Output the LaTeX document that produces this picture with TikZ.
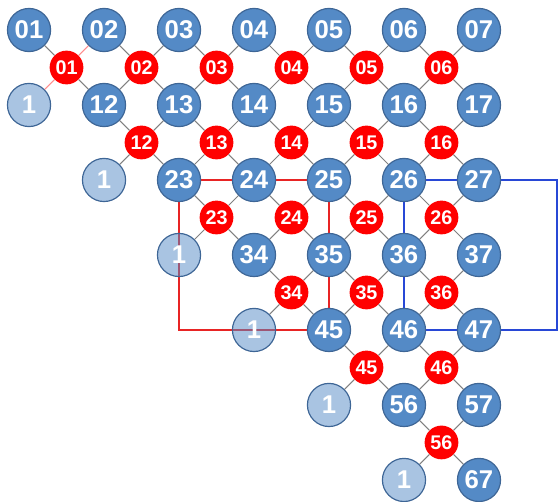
\documentclass[tikz,border=0pt]{standalone}
\usepackage{fontspec}
\setmainfont{Liberation Sans}
\usepackage{tikz}
\usepackage{xcolor}
\usetikzlibrary{backgrounds}

\definecolor{cellblue}{RGB}{84,138,198}
\definecolor{cellrim}{RGB}{62,102,150}
\definecolor{boxred}{RGB}{232,36,36}
\definecolor{boxblue}{RGB}{40,72,214}

\tikzset{
  bnode/.style={circle,fill=cellblue,draw=cellrim,line width=0.9pt,minimum size=1.15cm,inner sep=0pt,
    text=white,font=\fontsize{19.5}{19.5}\selectfont\bfseries},
  onode/.style={bnode,fill opacity=0.5,text opacity=1},
  rnode/.style={circle,fill=red,minimum size=0.9cm,inner sep=0pt,
    text=white,font=\fontsize{15}{15}\selectfont\bfseries},
  link/.style={gray,line width=0.8pt},
  pinklink/.style={red!45,line width=0.8pt},
  redbox/.style={boxred,line width=1.2pt},
  bluebox/.style={boxblue,line width=1.2pt}
}

\begin{document}
\begin{tikzpicture}[x=2cm,y=2cm]
\useasboundingbox (-0.387,0.4) rectangle (7.067,-6.293);
% blue cells
\node[bnode] (b01) at (0,0) {01};
\node[bnode] (b02) at (1,0) {02};
\node[bnode] (b03) at (2,0) {03};
\node[bnode] (b04) at (3,0) {04};
\node[bnode] (b05) at (4,0) {05};
\node[bnode] (b06) at (5,0) {06};
\node[bnode] (b07) at (6,0) {07};
\node[bnode] (b12) at (1,-1) {12};
\node[bnode] (b13) at (2,-1) {13};
\node[bnode] (b14) at (3,-1) {14};
\node[bnode] (b15) at (4,-1) {15};
\node[bnode] (b16) at (5,-1) {16};
\node[bnode] (b17) at (6,-1) {17};
\node[bnode] (b23) at (2,-2) {23};
\node[bnode] (b24) at (3,-2) {24};
\node[bnode] (b25) at (4,-2) {25};
\node[bnode] (b26) at (5,-2) {26};
\node[bnode] (b27) at (6,-2) {27};
\node[bnode] (b34) at (3,-3) {34};
\node[bnode] (b35) at (4,-3) {35};
\node[bnode] (b36) at (5,-3) {36};
\node[bnode] (b37) at (6,-3) {37};
\node[bnode] (b45) at (4,-4) {45};
\node[bnode] (b46) at (5,-4) {46};
\node[bnode] (b47) at (6,-4) {47};
\node[bnode] (b56) at (5,-5) {56};
\node[bnode] (b57) at (6,-5) {57};
\node[bnode] (b67) at (6,-6) {67};
% light cells
\node[onode] (o1) at (0,-1) {1};
\node[onode] (o2) at (1,-2) {1};
\node[onode] (o3) at (2,-3) {1};
\node[onode] (o4) at (3,-4) {1};
\node[onode] (o5) at (4,-5) {1};
\node[onode] (o6) at (5,-6) {1};
% red cells
\node[rnode] (r01) at (0.5,-0.5) {01};
\node[rnode] (r02) at (1.5,-0.5) {02};
\node[rnode] (r03) at (2.5,-0.5) {03};
\node[rnode] (r04) at (3.5,-0.5) {04};
\node[rnode] (r05) at (4.5,-0.5) {05};
\node[rnode] (r06) at (5.5,-0.5) {06};
\node[rnode] (r12) at (1.5,-1.5) {12};
\node[rnode] (r13) at (2.5,-1.5) {13};
\node[rnode] (r14) at (3.5,-1.5) {14};
\node[rnode] (r15) at (4.5,-1.5) {15};
\node[rnode] (r16) at (5.5,-1.5) {16};
\node[rnode] (r23) at (2.5,-2.5) {23};
\node[rnode] (r24) at (3.5,-2.5) {24};
\node[rnode] (r25) at (4.5,-2.5) {25};
\node[rnode] (r26) at (5.5,-2.5) {26};
\node[rnode] (r34) at (3.5,-3.5) {34};
\node[rnode] (r35) at (4.5,-3.5) {35};
\node[rnode] (r36) at (5.5,-3.5) {36};
\node[rnode] (r45) at (4.5,-4.5) {45};
\node[rnode] (r46) at (5.5,-4.5) {46};
\node[rnode] (r56) at (5.5,-5.5) {56};
% corners of the boxes
\coordinate (cnr) at (2,-4);
\coordinate (ne) at (7.04,-2);
\coordinate (se) at (7.04,-4);
% connectors
\draw[link] (b01) -- (r01) -- (b12);
\draw[pinklink] (b02) -- (r01) -- (o1);
\draw[link] (b02) -- (r02) -- (b13) (b03) -- (r02) -- (b12);
\draw[link] (b03) -- (r03) -- (b14) (b04) -- (r03) -- (b13);
\draw[link] (b04) -- (r04) -- (b15) (b05) -- (r04) -- (b14);
\draw[link] (b05) -- (r05) -- (b16) (b06) -- (r05) -- (b15);
\draw[link] (b06) -- (r06) -- (b17) (b07) -- (r06) -- (b16);
\draw[link] (b12) -- (r12) -- (b23) (b13) -- (r12) -- (o2);
\draw[link] (b13) -- (r13) -- (b24) (b14) -- (r13) -- (b23);
\draw[link] (b14) -- (r14) -- (b25) (b15) -- (r14) -- (b24);
\draw[link] (b15) -- (r15) -- (b26) (b16) -- (r15) -- (b25);
\draw[link] (b16) -- (r16) -- (b27) (b17) -- (r16) -- (b26);
\draw[link] (b23) -- (r23) -- (b34) (b24) -- (r23) -- (o3);
\draw[link] (b24) -- (r24) -- (b35) (b25) -- (r24) -- (b34);
\draw[link] (b25) -- (r25) -- (b36) (b26) -- (r25) -- (b35);
\draw[link] (b26) -- (r26) -- (b37) (b27) -- (r26) -- (b36);
\draw[link] (b34) -- (r34) -- (b45) (b35) -- (r34) -- (o4);
\draw[link] (b35) -- (r35) -- (b46) (b36) -- (r35) -- (b45);
\draw[link] (b36) -- (r36) -- (b47) (b37) -- (r36) -- (b46);
\draw[link] (b45) -- (r45) -- (b56) (b46) -- (r45) -- (o5);
\draw[link] (b46) -- (r46) -- (b57) (b47) -- (r46) -- (b56);
\draw[link] (b56) -- (r56) -- (b67) (b57) -- (r56) -- (o6);
% boxes behind the cells
\begin{scope}[on background layer]
\draw[redbox] (b23) -- (b24) -- (b25) -- (b35) -- (b45);
\draw[redbox] (b23.center) -- (cnr) -- (b45);
\draw[bluebox] (b26) -- (b27);
\draw[bluebox] (b27.center) -- (ne) -- (se) -- (b47);
\draw[bluebox] (b26) -- (b36) -- (b46) -- (b47);
\end{scope}
\end{tikzpicture}
\end{document}
